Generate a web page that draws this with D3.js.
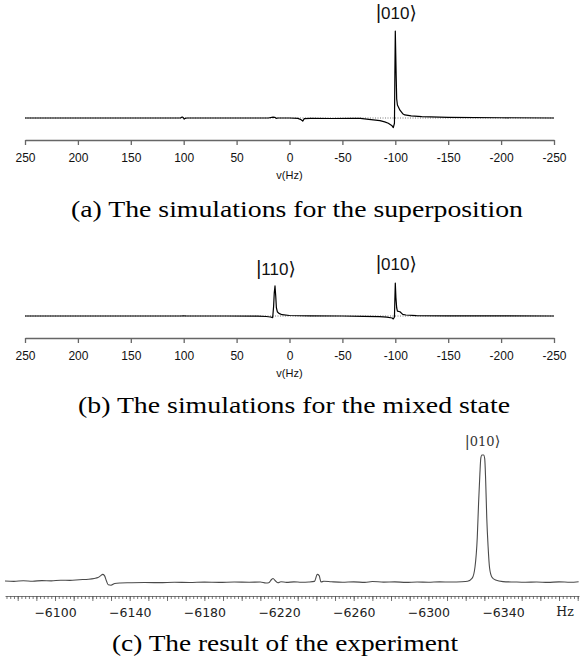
<!DOCTYPE html>
<html>
<head>
<meta charset="utf-8">
<script src="https://cdn.jsdelivr.net/npm/d3@7"></script>
<style>
  html, body { margin: 0; padding: 0; background: #fff; }
  svg { display: block; }
  .cap { font-family: 'Liberation Serif', 'Times New Roman', serif; }
</style>
</head>
<body>
<script>
// ---------------- DATA ----------------
const simTicks = [250, 200, 150, 100, 50, 0, -50, -100, -150, -200, -250];
const simAxisLabel = "v(Hz)";

// (a) superposition simulation
const aFreq = [250, 200, 150, 103, 101.5, 100.5, 99.5, 98.5, 97, 60, 20, 15.5, 14, 12.5, 11, 0, -8, -11, -12.5, -14, -20, -40, -60, -67, -75, -85.5, -90, -93.4, -96.6, -98.1, -99.2, -99.6, -100, -100.4, -100.8, -101.3, -102, -104.4, -107, -109, -115, -125, -150, -200, -250];
const aInt  = [0, 0, 0, 0, 0.012, 0.006, -0.012, -0.004, 0, 0, 0, 0.01, 0.008, -0.004, 0, 0, -0.004, -0.02, -0.035, -0.008, -0.004, -0.006, -0.004, -0.005, -0.015, -0.03, -0.045, -0.06, -0.085, -0.11, -0.06, 0.5, 1.0, 0.75, 0.5, 0.22, 0.15, 0.09, 0.05, 0.035, 0.025, 0.015, 0.008, 0.003, 0];

// (b) mixed state simulation
const bFreq = [250, 200, 150, 103, 100, 97, 60, 30, 22, 18, 15.9, 15.0, 14.4, 13.7, 13.0, 12.4, 11.5, 10, 7, 0, -20, -50, -70, -85, -92, -97, -98.1, -99.2, -99.6, -100, -100.6, -101.3, -102, -104.4, -107, -110, -120, -150, -200, -250];
const bInt  = [0, 0, 0, 0, 0.004, 0, 0, -0.005, -0.015, -0.03, -0.05, 0.3, 0.7, 0.91, 0.6, 0.25, 0.13, 0.08, 0.04, 0.015, 0.004, 0, -0.01, -0.02, -0.035, -0.06, -0.09, -0.03, 0.5, 1.0, 0.55, 0.25, 0.15, 0.13, 0.05, 0.03, 0.012, 0.004, 0.001, 0];

// (c) experimental spectrum
const cFreq = [-6073.2, -6078, -6083, -6088, -6093, -6098, -6103, -6108, -6113, -6118, -6121, -6123, -6124.5, -6125.5, -6126.5, -6127.5, -6128.5, -6130, -6132, -6135, -6140, -6148, -6156, -6164, -6172, -6180, -6188, -6196, -6204, -6210, -6213, -6214.5, -6216, -6216.8, -6218, -6219.5, -6221, -6224, -6228, -6232, -6236, -6239, -6240.5, -6241.5, -6242.5, -6244, -6248, -6254, -6260, -6266, -6270, -6276, -6282, -6288, -6294, -6300, -6306, -6312, -6318, -6321, -6323.5, -6325, -6326.2, -6326.9, -6327.6, -6328.1, -6328.7, -6329.6, -6330.2, -6330.7, -6331.3, -6332, -6332.8, -6334, -6336, -6340, -6346, -6352, -6358, -6364, -6370, -6376, -6380.5];
const cInt  = [0.008, 0.005, 0.010, 0.006, 0.011, 0.009, 0.014, 0.013, 0.018, 0.022, 0.028, 0.035, 0.05, 0.06, 0.05, 0.01, -0.022, -0.025, -0.012, -0.008, -0.006, -0.004, -0.005, -0.002, -0.004, -0.001, -0.003, 0.0, -0.002, 0.0, -0.008, -0.006, 0.02, 0.028, 0.01, -0.006, 0.002, -0.003, 0.001, -0.002, 0.0, 0.005, 0.06, 0.05, 0.0, 0.006, 0.002, -0.002, 0.001, -0.003, 0.004, -0.001, 0.001, -0.003, 0.0, -0.002, 0.001, 0.0, 0.002, 0.006, 0.03, 0.12, 0.35, 0.62, 0.85, 0.975, 1.0, 1.0, 0.97, 0.8, 0.5, 0.28, 0.11, 0.04, 0.015, 0.003, 0.0, -0.002, 0.0, -0.003, 0.001, -0.002, 0.002];
const expLabelTicks = [-6100, -6140, -6180, -6220, -6260, -6300, -6340];
const expUnit = "Hz";

// peak labels
const kets = [
  { panel: "a", text: "|010\u27E9", freq: -100 },
  { panel: "b", text: "|110\u27E9", freq: 13.7 },
  { panel: "b", text: "|010\u27E9", freq: -100 },
  { panel: "c", text: "|010\u27E9", freq: -6329 }
];

const captions = [
  "(a) The simulations for the superposition",
  "(b) The simulations for the mixed state",
  "(c) The result of the experiment"
];

// ---------------- DRAW ----------------
const W = 586, H = 663;
const svg = d3.select("body").append("svg").attr("width", W).attr("height", H);

const sansFont = "Liberation Sans, Arial, Helvetica, sans-serif";

function addKet(g, cx, baseline, text, size, color, family) {
  const t = g.append("text")
    .attr("x", cx).attr("y", baseline)
    .attr("text-anchor", "middle")
    .attr("font-family", family).attr("font-size", size)
    .attr("fill", color);
  t.append("tspan").attr("font-size", size * 1.15).text(text.slice(0, 1));
  t.append("tspan").text(text.slice(1, -1));
  t.append("tspan").attr("font-family", "DejaVu Sans, sans-serif")
    .attr("font-size", size * 1.1).text(text.slice(-1));
}

function simPanel(key, freq, inten, yBase, yPeak, axisY, ketBaselines) {
  const x = d3.scaleLinear().domain([250, -250]).range([25, 554]);
  const y = d3.scaleLinear().domain([0, 1]).range([yBase, yPeak]);
  const g = svg.append("g");

  // dotted reference baseline
  g.append("line")
    .attr("x1", x(250)).attr("x2", x(-250))
    .attr("y1", y(0)).attr("y2", y(0))
    .attr("stroke", "#555").attr("stroke-width", 0.8)
    .attr("stroke-dasharray", "1,1.5");

  const pts = freq.map((f, i) => [f, inten[i]]);
  g.append("path")
    .datum(pts)
    .attr("fill", "none")
    .attr("stroke", "#000")
    .attr("stroke-width", 1.2)
    .attr("stroke-linejoin", "round")
    .attr("d", d3.line().x(d => x(d[0])).y(d => y(d[1])));

  const axis = d3.axisBottom(x).tickValues(simTicks).tickSize(5).tickSizeOuter(0)
    .tickPadding(8).tickFormat(d => String(d));
  const ag = g.append("g").attr("transform", `translate(0,${axisY})`).call(axis);
  ag.select(".domain").attr("stroke", "#666").attr("stroke-width", 1.3);
  ag.selectAll(".tick line").attr("stroke", "#666").attr("stroke-width", 1.3);
  ag.selectAll(".tick text").attr("font-family", sansFont).attr("font-size", 12).attr("fill", "#111");

  g.append("text")
    .attr("x", x(0)).attr("y", axisY + 39)
    .attr("text-anchor", "middle")
    .attr("font-family", sansFont).attr("font-size", 11).attr("fill", "#111")
    .text(simAxisLabel);

  kets.filter(k => k.panel === key).forEach((k, i) => {
    addKet(g, x(k.freq) + 1, ketBaselines[i], k.text, 17, "#111", sansFont);
  });
}

simPanel("a", aFreq, aInt, 118, 31, 140, [18.5]);
simPanel("b", bFreq, bInt, 316, 283, 338, [275, 270]);

// experimental panel
(function () {
  const x = d3.scaleLinear().domain([-6073.2, -6380.7]).range([5, 579]);
  const y = d3.scaleLinear().domain([0, 1]).range([582, 455]);
  const g = svg.append("g");
  const pts = cFreq.map((f, i) => [f, cInt[i]]);
  g.append("path")
    .datum(pts)
    .attr("fill", "none")
    .attr("stroke", "#4a4a4a")
    .attr("stroke-width", 1.1)
    .attr("d", d3.line().curve(d3.curveMonotoneX).x(d => x(d[0])).y(d => y(d[1])));

  const axisY = 596;
  const minor = d3.range(-6074, -6381, -2);
  const major = d3.range(-6080, -6381, -10);
  const a1 = g.append("g").attr("transform", `translate(0,${axisY})`)
    .call(d3.axisBottom(x).tickValues(minor).tickSize(3).tickSizeOuter(0).tickFormat(""));
  const a2 = g.append("g").attr("transform", `translate(0,${axisY})`)
    .call(d3.axisBottom(x).tickValues(major).tickSize(5).tickSizeOuter(0).tickFormat(""));
  a2.select(".domain").remove();
  [a1, a2].forEach(a => {
    a.selectAll("line").attr("stroke", "#555").attr("stroke-width", 0.8);
    a.select(".domain").attr("stroke", "#555").attr("stroke-width", 0.8);
  });
  const a3 = g.append("g").attr("transform", `translate(0,${axisY})`)
    .call(d3.axisBottom(x).tickValues(expLabelTicks).tickSize(0).tickPadding(12)
      .tickFormat(d => "\u2212" + String(Math.abs(d))));
  a3.select(".domain").remove();
  a3.selectAll("text").attr("font-family", "DejaVu Sans, sans-serif").attr("font-size", 12.5).attr("fill", "#222");

  g.append("text").attr("x", 565).attr("y", 616).attr("text-anchor", "middle")
    .attr("font-family", "DejaVu Serif, serif").attr("font-size", 12.5).attr("fill", "#222")
    .text(expUnit);

  kets.filter(k => k.panel === "c").forEach(k => {
    addKet(g, x(k.freq), 446, k.text, 13, "#333", "DejaVu Serif, serif");
  });
})();

// captions
const capPos = [
  { cx: 297, y: 217, w: 452 },
  { cx: 294, y: 413, w: 432 },
  { cx: 285, y: 651, w: 346 }
];
captions.forEach((c, i) => {
  svg.append("text")
    .attr("class", "cap")
    .attr("x", capPos[i].cx).attr("y", capPos[i].y)
    .attr("text-anchor", "middle")
    .attr("font-size", 23)
    .attr("fill", "#000")
    .attr("textLength", capPos[i].w)
    .attr("lengthAdjust", "spacingAndGlyphs")
    .text(c);
});
</script>
</body>
</html>
